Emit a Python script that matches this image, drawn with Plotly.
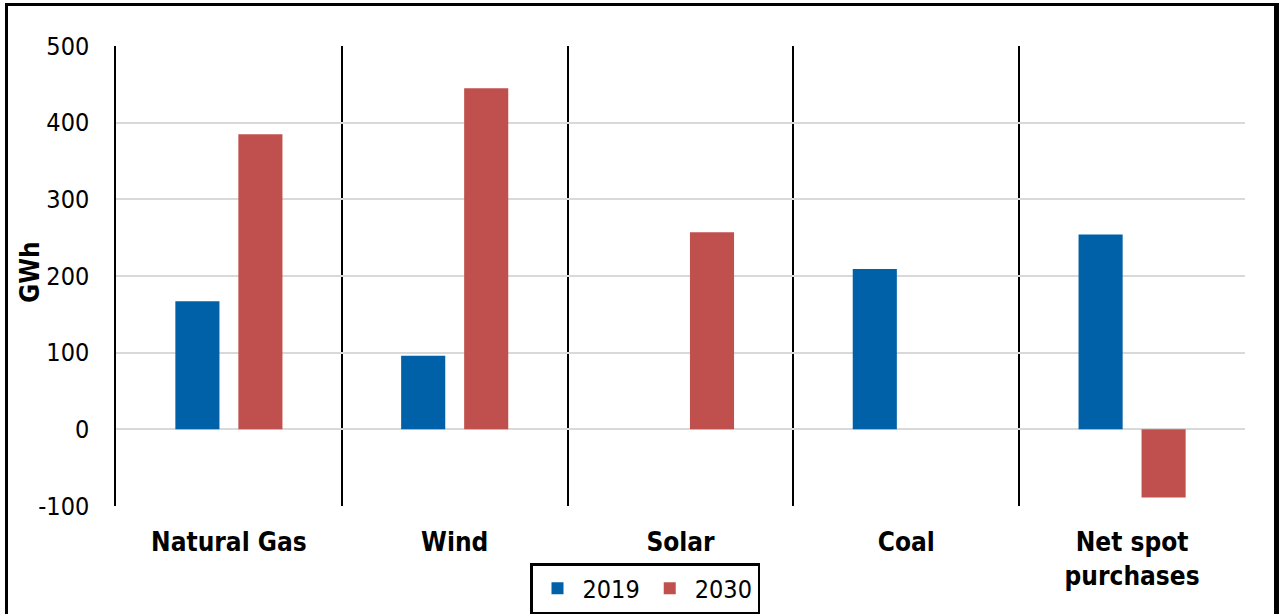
import plotly.graph_objects as go

categories = ["Natural Gas", "Wind", "Solar", "Coal", "Net spot<br>purchases"]
values_2019 = [167, 96, None, 209, 254]
values_2030 = [385, 445, 257, None, -89]
y_ticks = [-100, 0, 100, 200, 300, 400, 500]
y_tick_labels = ["-100", "0", "100", "200", "300", "400", "500"]

BLUE = "#0061A9"
RED = "#C0504D"
FONT = "DejaVu Sans Condensed"

fig = go.Figure()
fig.add_trace(go.Bar(name="2019", x=categories, y=values_2019, marker=dict(color=BLUE, line=dict(width=0))))
fig.add_trace(go.Bar(name="2030", x=categories, y=values_2030, marker=dict(color=RED, line=dict(width=0))))

L, R, T, B = 116, 38, 46, 108
W, H = 1283, 614
pw, ph = W - L - R, H - T - B

def px(x):
    return (x - L) / pw

def py(y):
    return (H - B - y) / ph

fig.update_layout(
    width=W, height=H,
    margin=dict(l=L, r=R, t=T, b=B, pad=0, autoexpand=False),
    paper_bgcolor="white", plot_bgcolor="white",
    barmode="group", bargap=0.442, bargroupgap=0.30,
    font=dict(family=FONT, size=25, color="black"),
    showlegend=True,
    legend=dict(
        orientation="h", x=px(530), y=py(563), xanchor="left", yanchor="top",
        bordercolor="black", borderwidth=2.5, bgcolor="white",
        font=dict(size=25, family=FONT), itemwidth=40,
    ),
    xaxis=dict(
        type="category", tickson="boundaries", showgrid=True, gridcolor="black", gridwidth=1.5,
        showline=False, ticks="", ticklabelstandoff=18,
        tickfont=dict(size=26, family=FONT, color="black", weight="bold"),
    ),
    yaxis=dict(
        range=[-100, 500], tickvals=y_ticks, ticktext=y_tick_labels,
        showgrid=True, gridcolor="#D9D9D9", gridwidth=1.5,
        zeroline=True, zerolinecolor="#D9D9D9", zerolinewidth=1.5,
        showline=True, linecolor="black", linewidth=1.5, ticks="", ticklabelstandoff=20,
        tickfont=dict(size=25, family=FONT, color="black"),
    ),
    annotations=[dict(
        text="<b>GWh</b>", xref="paper", yref="paper", x=px(30), y=py(272),
        xanchor="center", yanchor="middle", textangle=-90, showarrow=False,
        font=dict(size=26, family=FONT, color="black"),
    )],
    shapes=[
        dict(
            type="rect", xref="paper", yref="paper",
            x0=px(6.5), x1=px(1276), y0=py(625), y1=py(4.5),
            line=dict(color="black", width=3), fillcolor="rgba(0,0,0,0)", layer="below",
        ),
        dict(
            type="line", xref="paper", yref="paper",
            x0=px(1276.5), x1=px(1276.5), y0=py(625), y1=py(3),
            line=dict(color="black", width=5), layer="below",
        ),
    ],
)

fig.write_html("out.html")
